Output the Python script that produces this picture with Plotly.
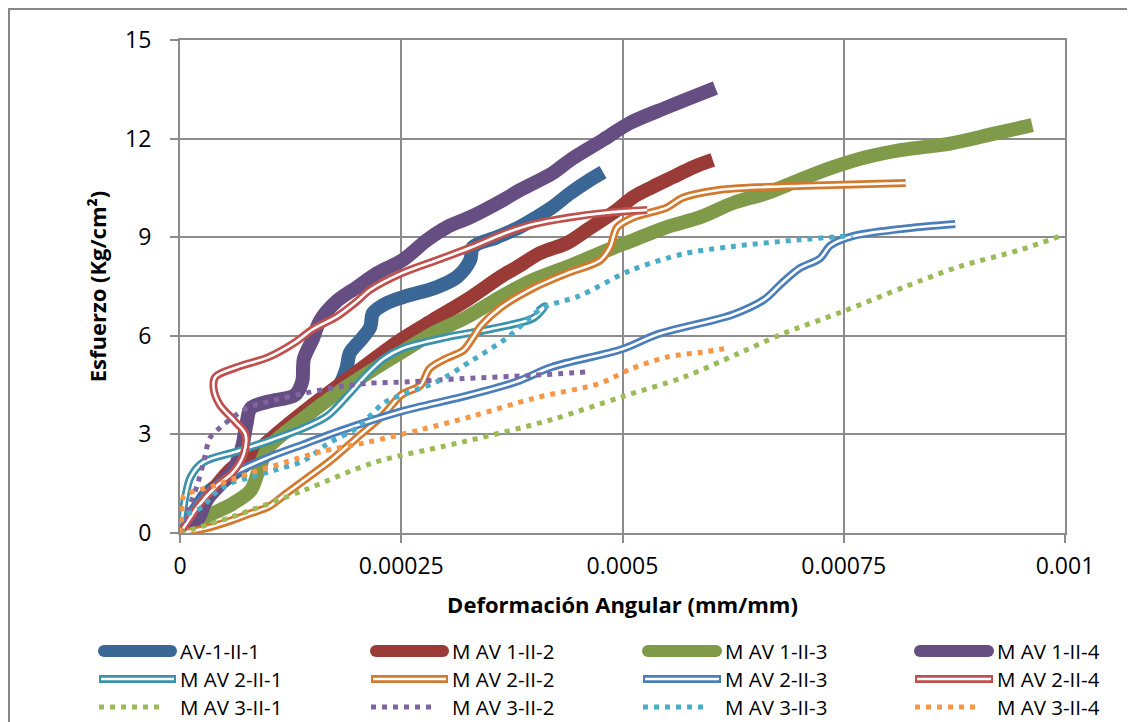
import plotly.graph_objects as go

# ---------------- data ----------------
names = ["AV-1-II-1", "M AV 1-II-2", "M AV 1-II-3", "M AV 1-II-4",
         "M AV 2-II-1", "M AV 2-II-2", "M AV 2-II-3", "M AV 2-II-4",
         "M AV 3-II-1", "M AV 3-II-2", "M AV 3-II-3", "M AV 3-II-4"]

x_av1_1 = [0, 0.00001, 0.00002, 0.00003, 0.00005, 0.00008, 0.00011, 0.00014, 0.00016, 0.00018,
           0.000188, 0.000192, 0.000205, 0.000215, 0.000218, 0.000234, 0.000252, 0.00029, 0.000313,
           0.000328, 0.000331, 0.000358, 0.000384, 0.000403, 0.000421, 0.000441, 0.000463, 0.000478]
y_av1_1 = [0, 0.4, 0.8, 1.2, 1.6, 2.2, 2.9, 3.5, 4.0, 4.5,
           5.0, 5.48, 5.9, 6.27, 6.69, 7.0, 7.18, 7.48, 7.79,
           8.31, 8.70, 9.0, 9.31, 9.61, 9.92, 10.34, 10.74, 10.98]

x_av1_2 = [0, 0.00002, 0.00004, 0.00006, 0.00008, 0.0001, 0.00015, 0.0002, 0.000249, 0.000286,
           0.000324, 0.000362, 0.000381, 0.000407, 0.000437, 0.00046, 0.000494, 0.000512, 0.000534,
           0.000557, 0.00058, 0.000602]
y_av1_2 = [0, 0.6, 1.4, 2.0, 2.3, 2.8, 3.9, 4.9, 5.87, 6.48,
           7.09, 7.79, 8.09, 8.52, 8.82, 9.22, 9.83, 10.22, 10.53,
           10.83, 11.13, 11.35]

x_av1_3 = [0, 0.00003, 0.00006, 0.00008, 0.00009, 0.0001, 0.00014, 0.00018, 0.00022, 0.000249,
           0.000286, 0.000324, 0.000362, 0.000399, 0.000437, 0.000475, 0.000512, 0.00055, 0.000588,
           0.000625, 0.000663, 0.0007, 0.000738, 0.000776, 0.000814, 0.00087, 0.00092, 0.000963]
y_av1_3 = [0, 0.5, 0.9, 1.3, 2.0, 2.6, 3.5, 4.3, 5.0, 5.48,
           6.08, 6.57, 7.18, 7.70, 8.09, 8.52, 8.91, 9.31, 9.61,
           10.04, 10.34, 10.74, 11.13, 11.44, 11.65, 11.85, 12.15, 12.41]

x_av1_4 = [0, 0.00002, 0.00003, 0.00005, 0.00006, 0.00007, 0.000075, 0.00008, 0.0001, 0.00013,
           0.000138, 0.00014, 0.00015, 0.000158, 0.000177, 0.0002, 0.000223, 0.000252, 0.000279,
           0.000302, 0.000328, 0.000365, 0.000384, 0.000421, 0.000441, 0.000478, 0.000508, 0.00055,
           0.000605]
y_av1_4 = [0, 0.4, 1.0, 1.6, 1.9, 2.6, 3.3, 3.8, 4.0, 4.2,
           4.6, 5.3, 5.9, 6.45, 7.05, 7.48, 7.91, 8.31, 8.91,
           9.31, 9.61, 10.13, 10.43, 10.95, 11.35, 11.96, 12.47, 12.95,
           13.54]

x_av2_1 = [0, 0.000002, 0.000006, 0.000012, 0.000026, 0.000064, 0.0001, 0.00014, 0.000166, 0.00019,
           0.00021, 0.00023, 0.00025, 0.0003, 0.00035, 0.0004, 0.000412, 0.000405]
y_av2_1 = [0, 0.4, 1.1, 1.7, 2.15, 2.48, 2.8, 3.2, 3.55, 4.2,
           4.8, 5.3, 5.6, 5.95, 6.2, 6.55, 6.9, 6.75]

x_av2_2 = [0, 0.00003, 0.00006, 0.00008, 0.0001, 0.00012, 0.00014, 0.00017, 0.0002, 0.00023,
           0.00025, 0.000272, 0.000282, 0.0003, 0.00032, 0.00033, 0.00034, 0.000362, 0.000399,
           0.000437, 0.000475, 0.000486, 0.000494, 0.000512, 0.00055, 0.000568, 0.000607, 0.000663,
           0.000738, 0.00082]
y_av2_2 = [0, 0.15, 0.4, 0.6, 0.8, 1.2, 1.6, 2.2, 2.9, 3.6,
           4.2, 4.5, 5.0, 5.3, 5.55, 5.9, 6.3, 6.85, 7.45,
           7.9, 8.3, 8.7, 9.3, 9.6, 9.9, 10.2, 10.43, 10.53,
           10.59, 10.65]

x_av2_3 = [0, 0.00001, 0.00003, 0.00006, 0.0001, 0.00014, 0.00018, 0.00025, 0.00032, 0.00038,
           0.00042, 0.0005, 0.00054, 0.000625, 0.00066, 0.00068, 0.0007, 0.000723, 0.000735,
           0.00076, 0.000815, 0.000876]
y_av2_3 = [0, 0.5, 1.2, 1.8, 2.3, 2.7, 3.1, 3.7, 4.15, 4.6,
           5.05, 5.6, 6.05, 6.65, 7.1, 7.6, 8.05, 8.35, 8.75,
           9.03, 9.25, 9.4]

x_av2_4 = [0, 0.00001, 0.00002, 0.00004, 0.00006, 0.000072, 0.000074, 0.000062, 0.000045, 0.000038,
           0.00004, 0.000065, 0.0001, 0.00013, 0.00015, 0.000178, 0.0002, 0.000215, 0.00025,
           0.00029, 0.00033, 0.000365, 0.0004, 0.00044, 0.00048, 0.000528]
y_av2_4 = [0, 0.4, 0.8, 1.4, 1.85, 2.4, 3.0, 3.4, 3.9, 4.4,
           4.75, 5.05, 5.35, 5.8, 6.2, 6.6, 7.05, 7.4, 7.9,
           8.3, 8.7, 9.1, 9.4, 9.6, 9.74, 9.83]

x_av3_1 = [0, 0.00006, 0.00014, 0.00022, 0.0003, 0.00034, 0.00042, 0.0005, 0.00057, 0.00063,
           0.00068, 0.00075, 0.00082, 0.00088, 0.00095, 0.000994]
y_av3_1 = [0, 0.5, 1.3, 2.15, 2.65, 2.9, 3.45, 4.15, 4.75, 5.45,
           6.05, 6.75, 7.5, 8.1, 8.62, 9.03]

x_av3_2 = [0, 0.000005, 0.000012, 0.00002, 0.000027, 0.000034, 0.000045, 0.000064, 0.00008, 0.0001,
           0.00014, 0.00018, 0.00021, 0.00026, 0.00032, 0.0004, 0.00046]
y_av3_2 = [0, 0.4, 0.9, 1.5, 2.2, 2.9, 3.2, 3.6, 3.85, 4.0,
           4.25, 4.45, 4.55, 4.6, 4.7, 4.8, 4.9]

x_av3_3 = [0, 0.000003, 0.00001, 0.000026, 0.000037, 0.000056, 0.00008, 0.000105, 0.00014, 0.000166,
           0.0002, 0.00023, 0.00025, 0.00029, 0.00033, 0.00037, 0.00041, 0.00045, 0.00051,
           0.00057, 0.000625, 0.0007, 0.00076]
y_av3_3 = [0, 0.5, 0.6, 0.8, 1.15, 1.5, 1.7, 1.9, 2.2, 2.7,
           3.2, 3.95, 4.2, 4.6, 5.25, 5.95, 6.85, 7.2, 8.0,
           8.5, 8.72, 8.92, 9.05]

x_av3_4 = [0, 0.000002, 0.000004, 0.00004, 0.00008, 0.00012, 0.00016, 0.00021, 0.00027, 0.00033,
           0.0004, 0.000475, 0.00051, 0.00055, 0.00059, 0.00062]
y_av3_4 = [0, 0.6, 1.1, 1.45, 1.83, 2.16, 2.48, 2.75, 3.13, 3.55,
           4.1, 4.56, 5.0, 5.35, 5.5, 5.63]

xs = [x_av1_1, x_av1_2, x_av1_3, x_av1_4, x_av2_1, x_av2_2, x_av2_3, x_av2_4,
      x_av3_1, x_av3_2, x_av3_3, x_av3_4]
ys = [y_av1_1, y_av1_2, y_av1_3, y_av1_4, y_av2_1, y_av2_2, y_av2_3, y_av2_4,
      y_av3_1, y_av3_2, y_av3_3, y_av3_4]

x_ticks = [0, 0.00025, 0.0005, 0.00075, 0.001]
x_tick_labels = ["0", "0.00025", "0.0005", "0.00075", "0.001"]
y_ticks = [0, 3, 6, 9, 12, 15]

# ---------------- styles ----------------
colors = ["#3B6796", "#9A3B38", "#7F9A48", "#664E83",
          "#3A93AA", "#D3792E", "#4A7EBB", "#C0504D",
          "#9BBB59", "#8064A2", "#4BACC6", "#F79646"]
kinds = ["thick"] * 4 + ["double"] * 4 + ["dot"] * 4

W, H = 1135, 722
OFF = 8  # page body margin: screen px = figure px + OFF
ML, MR, MT, MB = 172, 78, 32, 197
PW, PH = W - ML - MR, H - MT - MB
GRID = "#8C8C8C"
FONT = "Open Sans"


def px(xs_screen):
    return (xs_screen - OFF - ML) / PW


def py(ys_screen):
    return (H - MB - (ys_screen - OFF)) / PH


fig = go.Figure()

for i in range(12):
    k = kinds[i]
    if k == "thick":
        fig.add_trace(go.Scatter(x=xs[i], y=ys[i], mode="lines", name=names[i],
                                 line=dict(color=colors[i], width=14, shape="spline", smoothing=0.9),
                                 showlegend=False))
    elif k == "double":
        fig.add_trace(go.Scatter(x=xs[i], y=ys[i], mode="lines", name=names[i],
                                 line=dict(color=colors[i], width=8, shape="spline", smoothing=0.9),
                                 showlegend=False))
        fig.add_trace(go.Scatter(x=xs[i], y=ys[i], mode="lines", name=names[i],
                                 line=dict(color="white", width=2.6, shape="spline", smoothing=0.9),
                                 showlegend=False, hoverinfo="skip"))
    else:
        fig.add_trace(go.Scatter(x=xs[i], y=ys[i], mode="lines", name=names[i],
                                 line=dict(color=colors[i], width=5, shape="spline", smoothing=0.9,
                                           dash="5px,6px"),
                                 showlegend=False))

# ---------------- manual legend (screen pixel positions) ----------------
shapes = []
annotations = []
col_sample = [(99, 176), (371, 448), (643, 721), (915, 993)]
row_y = [651, 679, 707]
for i in range(12):
    r, c = divmod(i, 4)
    x0, x1 = col_sample[c]
    yy = py(row_y[r])
    k = kinds[i]
    if k == "thick":
        shapes.append(dict(type="line", xref="paper", yref="paper", x0=px(x0 + 5), x1=px(x1 - 5),
                           y0=yy, y1=yy, line=dict(color=colors[i], width=12)))
        shapes.append(dict(type="circle", xref="paper", yref="paper",
                           x0=px(x0 - 1), x1=px(x0 + 11), y0=py(row_y[r] + 6), y1=py(row_y[r] - 6),
                           fillcolor=colors[i], line=dict(width=0)))
        shapes.append(dict(type="circle", xref="paper", yref="paper",
                           x0=px(x1 - 11), x1=px(x1 + 1), y0=py(row_y[r] + 6), y1=py(row_y[r] - 6),
                           fillcolor=colors[i], line=dict(width=0)))
    elif k == "double":
        shapes.append(dict(type="line", xref="paper", yref="paper", x0=px(x0), x1=px(x1),
                           y0=yy, y1=yy, line=dict(color=colors[i], width=8)))
        shapes.append(dict(type="line", xref="paper", yref="paper", x0=px(x0 + 2), x1=px(x1 - 2),
                           y0=yy, y1=yy, line=dict(color="white", width=2.6)))
    else:
        shapes.append(dict(type="line", xref="paper", yref="paper", x0=px(x0), x1=px(x0 + 60),
                           y0=yy, y1=yy, line=dict(color=colors[i], width=5, dash="5px,6px")))
    annotations.append(dict(text=names[i], xref="paper", yref="paper", x=px(x1 + 2), y=yy,
                            xanchor="left", yanchor="middle", showarrow=False,
                            font=dict(family=FONT, size=20.5, color="black")))

# outer chart border (partly cut by the window, as in the reference)
shapes.append(dict(type="rect", xref="paper", yref="paper", layer="below",
                   x0=px(OFF + 1), x1=px(1150), y0=py(740), y1=py(OFF + 1),
                   line=dict(color="#878787", width=2), fillcolor="rgba(0,0,0,0)"))

fig.update_layout(
    width=W, height=H,
    margin=dict(l=ML, r=MR, t=MT, b=MB, pad=0),
    paper_bgcolor="white", plot_bgcolor="white",
    showlegend=False,
    font=dict(family=FONT, size=23, color="black"),
    shapes=shapes, annotations=annotations,
    xaxis=dict(range=[0, 0.001], tickvals=x_ticks, ticktext=x_tick_labels,
               showgrid=True, gridcolor=GRID, gridwidth=2,
               showline=True, linecolor=GRID, linewidth=2, mirror=True,
               zeroline=False, ticks="outside", ticklen=8, tickcolor=GRID, tickwidth=2,
               tickfont=dict(size=23), ticklabelstandoff=3,
               title=dict(text="<b>Deformación Angular (mm/mm)</b>", font=dict(size=22), standoff=18)),
    yaxis=dict(range=[0, 15], tickvals=y_ticks,
               showgrid=True, gridcolor=GRID, gridwidth=2,
               showline=True, linecolor=GRID, linewidth=2, mirror=True,
               zeroline=False, ticks="outside", ticklen=8, tickcolor=GRID, tickwidth=2,
               tickfont=dict(size=23), ticklabelstandoff=14,
               title=dict(text="<b>Esfuerzo (Kg/cm²)</b>", font=dict(size=22), standoff=12)),
)

fig.write_html("out.html")
